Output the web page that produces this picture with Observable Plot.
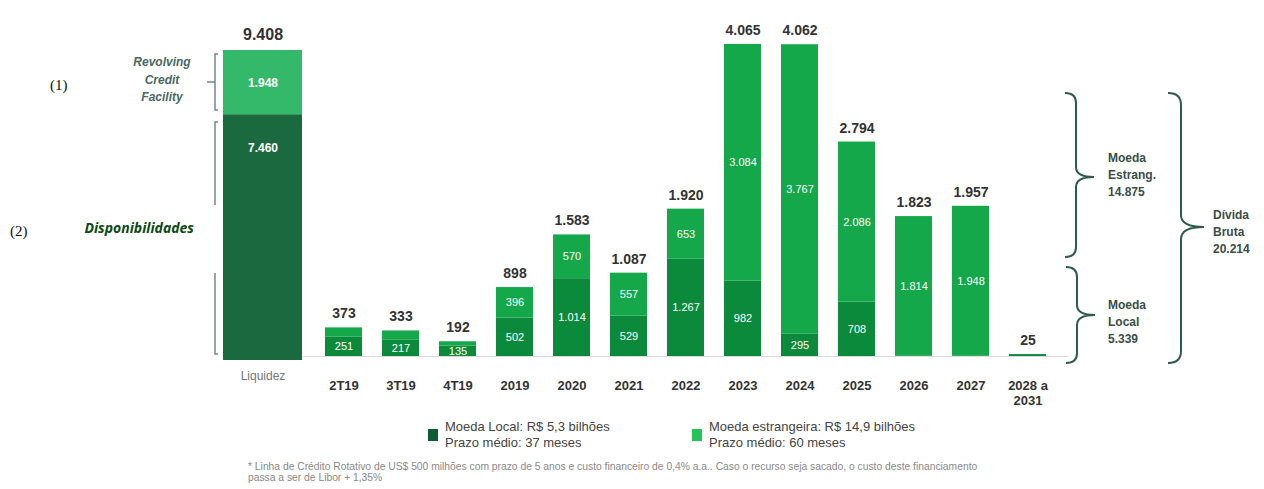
<!DOCTYPE html>
<html>
<head>
<meta charset="utf-8">
<script src="https://cdn.jsdelivr.net/npm/d3@7"></script>
<script src="https://cdn.jsdelivr.net/npm/@observablehq/plot@0.6"></script>
<style>
  html, body { margin: 0; padding: 0; background: #fff; }
  #wrap { position: relative; width: 1264px; height: 489px; overflow: hidden; font-family: "Liberation Sans", Arial, sans-serif; }
  #wrap > .p { position: absolute; top: 0; }
  #overlay { position: absolute; left: 0; top: 0; pointer-events: none; }
</style>
</head>
<body>
<div id="wrap"></div>
<script>
// ---- data ----
const liquidezCategory = ["Liquidez"];
const liquidezSegments = ["Disponibilidades", "Revolving Credit Facility"];
const liquidezValues = [7460, 1948];
const liquidezTotal = [9408];

const categories = ["2T19","3T19","4T19","2019","2020","2021","2022","2023","2024","2025","2026","2027","2028 a 2031"];
const localValues   = [251, 217, 135, 502, 1014, 529, 1267, 982, 295, 708, 9, 9, 25];
const foreignValues = [122, 116, 57, 396, 570, 557, 653, 3084, 3767, 2086, 1814, 1948, 0];
const totals        = [373, 333, 192, 898, 1583, 1087, 1920, 4065, 4062, 2794, 1823, 1957, 25];

const legendLabels = [
  ["Moeda Local: R$ 5,3 bilhões", "Prazo médio: 37 meses"],
  ["Moeda estrangeira: R$ 14,9 bilhões", "Prazo médio: 60 meses"]
];
const braceLabels = [
  ["Moeda", "Estrang.", "14.875"],
  ["Moeda", "Local", "5.339"],
  ["Dívida", "Bruta", "20.214"]
];
const footnote = [
  "* Linha de Crédito Rotativo de US$ 500 milhões com prazo de 5 anos e custo financeiro de 0,4% a.a.. Caso o recurso seja sacado, o custo deste financiamento",
  "passa a ser de Libor + 1,35%"
];

const fmt = d3.formatLocale({decimal: ",", thousands: ".", grouping: [3], currency: ["R$", ""]}).format(",d");
const FONT = "Liberation Sans, Arial, sans-serif";

const wrap = document.getElementById("wrap");

// ---- Plot 1: Liquidez ----
const liqRows = liquidezSegments.map((s, i) => ({cat: liquidezCategory[0], seg: s, value: liquidezValues[i]}));
const p1 = Plot.plot({
  width: 303, height: 420,
  marginLeft: 223, marginRight: 1, marginTop: 50, marginBottom: 60,
  style: {fontFamily: FONT, background: "transparent"},
  x: {domain: liquidezCategory, padding: 0, label: null},
  y: {domain: [0, liquidezTotal[0]], axis: null},
  color: {domain: liquidezSegments, range: ["#1b6a3f", "#34b96b"]},
  marks: [
    Plot.barY(liqRows, {x: "cat", y: "value", fill: "seg"}),
    Plot.text(liqRows, Plot.stackY2({x: "cat", y: "value", text: d => fmt(d.value), dy: 33, fill: "white", fontWeight: "bold", fontSize: 12})),
    Plot.text(liquidezCategory, {x: d => d, y: (d, i) => liquidezTotal[i], text: (d, i) => fmt(liquidezTotal[i]), dy: -16, fontWeight: "bold", fontSize: 16, fill: "#333"}),
    Plot.axisX({tickSize: 0, tickPadding: 11, fontSize: 12, fill: "#777", label: null})
  ]
});
p1.classList.add("p");
p1.style.left = "0px";
wrap.appendChild(p1);

// ---- Plot 2: cronograma ----
const rows = categories.flatMap((c, i) => [
  {cat: c, seg: "local", value: localValues[i]},
  {cat: c, seg: "foreign", value: foreignValues[i]}
]);
const p2 = Plot.plot({
  width: 961, height: 420,
  marginLeft: 0, marginRight: 196, marginTop: 44, marginBottom: 64,
  style: {fontFamily: FONT, background: "transparent"},
  x: {domain: categories, padding: 0.35, label: null},
  y: {domain: [0, d3.max(totals)], axis: null},
  color: {domain: ["local", "foreign"], range: ["#0c8a3c", "#14a84b"]},
  marks: [
    Plot.ruleY([0], {stroke: "#d9d9d9"}),
    Plot.barY(rows, {x: "cat", y: "value", fill: "seg"}),
    Plot.text(rows, Plot.stackY({x: "cat", y: "value", text: d => d.value >= 130 ? fmt(d.value) : "", fill: "white", fontSize: 11})),
    Plot.text(categories, {x: d => d, y: (d, i) => totals[i], text: (d, i) => fmt(totals[i]), dy: -14, fontWeight: "bold", fontSize: 14, fill: "#333"}),
    Plot.axisX({tickSize: 0, tickPadding: 22, fontWeight: "bold", fontSize: 13, fill: "#333", lineHeight: 1.2, label: null,
      tickFormat: d => d.replace(" a ", " a\n")})
  ]
});
p2.classList.add("p");
p2.style.left = "303px";
wrap.appendChild(p2);

// ---- overlay annotations ----
const svg = d3.select(wrap).append("svg").attr("id", "overlay")
  .attr("width", 1264).attr("height", 489).attr("font-family", FONT);

// left brackets
const lb = svg.append("g").attr("fill", "none").attr("stroke", "#6f8c82").attr("stroke-width", 1.5);
lb.append("path").attr("d", "M218,54 L215,54 L215,110 L218,110 M215,82 L207,82");
lb.append("path").attr("d", "M218,122 L215,122 L215,205");
lb.append("path").attr("d", "M215,273 L215,354 L218,354");

svg.append("text").attr("x", 50).attr("y", 85).attr("dy", "0.35em")
  .attr("font-family", "Liberation Serif, Times New Roman, serif").attr("font-size", 15).attr("fill", "#111").text("(1)");
svg.append("text").attr("x", 10).attr("y", 231).attr("dy", "0.35em")
  .attr("font-family", "Liberation Serif, Times New Roman, serif").attr("font-size", 15).attr("fill", "#111").text("(2)");

const rcf = ["Revolving", "Credit", "Facility"];
rcf.forEach((t, i) => svg.append("text").attr("x", 162).attr("y", 62 + i * 17.5).attr("dy", "0.35em")
  .attr("text-anchor", "middle").attr("font-size", 12).attr("font-weight", "bold").attr("font-style", "italic")
  .attr("fill", "#4b6861").text(t));

svg.append("text").attr("x", 194).attr("y", 228).attr("dy", "0.35em").attr("text-anchor", "end")
  .attr("font-family", "Open Sans, sans-serif").attr("font-size", 14).attr("font-weight", "bold").attr("font-style", "italic")
  .attr("fill", "#0b4a12").text("Disponibilidades");

// right braces
function brace(x0, x1, xt, yT, yM, yB, r) {
  return `M${x0},${yT} Q${x1},${yT} ${x1},${yT + r} L${x1},${yM - r} Q${x1},${yM} ${xt},${yM} Q${x1},${yM} ${x1},${yM + r} L${x1},${yB - r} Q${x1},${yB} ${x0},${yB}`;
}
const rb = svg.append("g").attr("fill", "none").attr("stroke", "#2f5b4b").attr("stroke-width", 2);
rb.append("path").attr("d", brace(1065, 1076, 1094, 93, 177, 257, 10));
rb.append("path").attr("d", brace(1066, 1077, 1095, 267, 315, 363, 10));
rb.append("path").attr("d", brace(1168, 1181, 1204, 93, 227, 363, 12));

const bl = [[1108, 158], [1108, 305], [1213, 215]];
braceLabels.forEach((lines, k) => lines.forEach((t, i) =>
  svg.append("text").attr("x", bl[k][0]).attr("y", bl[k][1] + i * 16.7).attr("dy", "0.35em")
    .attr("font-size", 12).attr("font-weight", "bold").attr("fill", "#3a4d46").text(t)));

// legend
const legColors = ["#0e5c31", "#25c35b"];
const legX = [428, 692];
legendLabels.forEach((lines, k) => {
  svg.append("rect").attr("x", legX[k]).attr("y", 429).attr("width", 10).attr("height", 12).attr("fill", legColors[k]);
  lines.forEach((t, i) => svg.append("text").attr("x", legX[k] + 17).attr("y", 426 + i * 16).attr("dy", "0.35em")
    .attr("font-size", 13).attr("fill", "#444").text(t));
});

// footnote
footnote.forEach((t, i) => svg.append("text").attr("x", 248).attr("y", 466 + i * 11).attr("dy", "0.35em")
  .attr("font-size", 10.3).attr("fill", "#8a8a8a").text(t));
</script>
</body>
</html>
